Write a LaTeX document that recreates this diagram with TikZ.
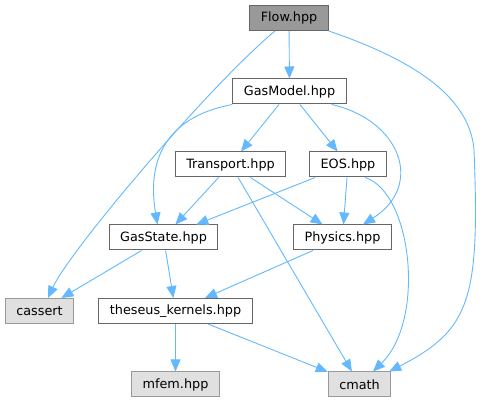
\documentclass[tikz,border=0pt]{standalone}
\usepackage{fontspec}
\setmainfont{DejaVu Sans}
\usetikzlibrary{arrows.meta}

\definecolor{edgeblue}{HTML}{63B8FF}
\definecolor{boxline}{HTML}{666666}
\definecolor{extline}{HTML}{999999}
\definecolor{extfill}{HTML}{E0E0E0}
\definecolor{topfill}{HTML}{999999}

\tikzset{
  hdr/.style={draw=boxline, fill=white, line width=1pt, inner xsep=11pt, inner ysep=0pt,
    minimum height=25pt, font=\fontsize{12.8}{15}\selectfont},
  sys/.style={hdr, draw=extline, fill=extfill},
  dep/.style={draw=edgeblue, line width=0.9pt, -{Triangle[length=12pt,width=10pt]}},
}

\begin{document}
\begin{tikzpicture}[x=1pt, y=-1pt]
    \useasboundingbox (0,0) rectangle (485,403);

    \node[hdr, fill=topfill] (flow) at (289, 18) {Flow.hpp};
    \node[hdr] (gasmodel) at (289.5, 91.5) {GasModel.hpp};
    \node[hdr] (transport) at (230.5, 164.5) {Transport.hpp};
    \node[hdr] (eos) at (348, 164.5) {EOS.hpp};
    \node[hdr] (gasstate) at (163.5, 237.5) {GasState.hpp};
    \node[hdr] (physics) at (342.5, 237.5) {Physics.hpp};
    \node[sys] (cassert) at (39.5, 311) {cassert};
    \node[hdr] (kernels) at (175.5, 311) {theseus\_kernels.hpp};
    \node[sys] (mfem) at (175.5, 384.5) {mfem.hpp};
    \node[sys] (cmath) at (359.5, 384.5) {cmath};

    % straight edges
    \draw[dep] (flow) -- (gasmodel);
    \draw[dep] (gasmodel) -- (transport);
    \draw[dep] (gasmodel) -- (eos);
    \draw[dep] (transport) -- (gasstate);
    \draw[dep] (transport) -- (physics);
    \draw[dep] (transport) -- (cmath);
    \draw[dep] (eos) -- (gasstate);
    \draw[dep] (eos) -- (physics);
    \draw[dep] (gasstate) -- (cassert);
    \draw[dep] (gasstate) -- (kernels);
    \draw[dep] (physics) -- (kernels);
    \draw[dep] (kernels) -- (mfem);
    \draw[dep] (kernels) -- (cmath);

    % curved edges
    \draw[dep] ([xshift=-14pt]flow.south) .. controls (210,85) and (70,250) .. ([xshift=8.5pt]cassert.north);
    \draw[dep] (flow.south east) .. controls (420,62) and (470,100) .. (474,150)
                                 .. controls (480,300) and (470,330) .. ([xshift=-2pt]cmath.north east);
    \draw[dep] (gasmodel.south west) .. controls (150,120) and (150,180) .. ([xshift=-6pt]gasstate.north);
    \draw[dep] ([xshift=-15pt]gasmodel.south east) .. controls (400,120) and (425,185) .. ([xshift=20.5pt]physics.north);
    \draw[dep] ([xshift=17pt]eos.south) .. controls (412,192) and (426,320) .. ([xshift=13.5pt]cmath.north);
\end{tikzpicture}
\end{document}
